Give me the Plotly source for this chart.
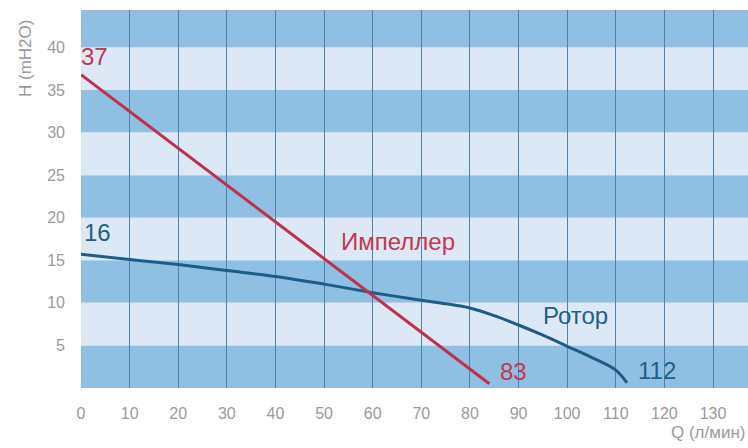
import plotly.graph_objects as go

# Data
q_imp = [0, 84]
h_imp = [36.8, 0.5]

q_rot = [0, 10, 20, 30, 40, 50, 60, 70, 75, 80, 85, 90, 95, 100, 105, 110, 112.3]
h_rot = [15.7, 15.1, 14.5, 13.8, 13.1, 12.2, 11.2, 10.3, 9.9, 9.4, 8.5, 7.4, 6.2, 4.9, 3.6, 2.1, 0.6]

x_ticks = list(range(0, 140, 10))
y_ticks = [5, 10, 15, 20, 25, 30, 35, 40]
dark_bands = [(0, 5), (10, 15), (20, 25), (30, 35), (40, 45)]
light_bands = [(5, 10), (15, 20), (25, 30), (35, 40)]

labels = [
    ("37", 2.8, 38.9, "#c4374e"),
    ("16", 3.4, 18.3, "#1f5f88"),
    ("Импеллер", 65.3, 17.2, "#c4374e"),
    ("Ротор", 101.8, 8.5, "#1f5f88"),
    ("83", 89.0, 1.9, "#c4374e"),
    ("112", 118.4, 2.0, "#1f5f88"),
]

DARK = "#8fc0e4"
LIGHT = "#dde8f6"
FONT = "Liberation Sans, Arial"

fig = go.Figure()

fig.add_trace(go.Scatter(x=q_rot, y=h_rot, mode="lines",
                         line=dict(color="#1d5c86", width=3, shape="spline", smoothing=1.0),
                         hoverinfo="skip"))
fig.add_trace(go.Scatter(x=q_imp, y=h_imp, mode="lines",
                         line=dict(color="#c0304a", width=3),
                         hoverinfo="skip"))

shapes = []
for y0, y1 in dark_bands:
    shapes.append(dict(type="rect", xref="paper", yref="y", x0=0, x1=1, y0=y0, y1=y1,
                       fillcolor=DARK, line=dict(width=0), layer="below"))
for y0, y1 in light_bands:
    shapes.append(dict(type="rect", xref="paper", yref="y", x0=0, x1=1, y0=y0, y1=y1,
                       fillcolor=LIGHT, line=dict(width=0), layer="below"))

annotations = []
for txt, x, y, c in labels:
    annotations.append(dict(text=txt, x=x, y=y, xref="x", yref="y", showarrow=False,
                            xanchor="center", yanchor="middle",
                            font=dict(family=FONT, size=24, color=c)))
annotations.append(dict(text="H (mH2O)", x=-0.084, y=0.873, xref="paper", yref="paper",
                        xanchor="center", yanchor="middle",
                        showarrow=False, textangle=-90,
                        font=dict(family=FONT, size=17, color="#9a9a9a")))
annotations.append(dict(text="Q (л/мин)", x=0.999, y=-0.119, xref="paper", yref="paper",
                        xanchor="right", yanchor="middle", showarrow=False,
                        font=dict(family=FONT, size=17, color="#9a9a9a")))

fig.update_layout(
    width=748, height=448,
    margin=dict(l=81, r=0, t=10, b=60),
    paper_bgcolor="white", plot_bgcolor=LIGHT,
    showlegend=False,
    shapes=shapes,
    annotations=annotations,
    xaxis=dict(range=[0, 137.2], tickvals=x_ticks, showgrid=True, gridcolor="#4f82aa",
               gridwidth=1, zeroline=False, showline=False, ticks="",
               tickfont=dict(family=FONT, size=16, color="#9a9a9a"),
               ticklabelstandoff=14),
    yaxis=dict(range=[0, 44.4], tickvals=y_ticks, showgrid=False, zeroline=False,
               showline=False, ticks="",
               tickfont=dict(family=FONT, size=16, color="#9a9a9a"),
               ticklabelstandoff=15),
)

fig.write_html("out.html", config={"displayModeBar": False},
               post_script="document.body.style.margin='0';document.body.style.overflow='hidden';")
